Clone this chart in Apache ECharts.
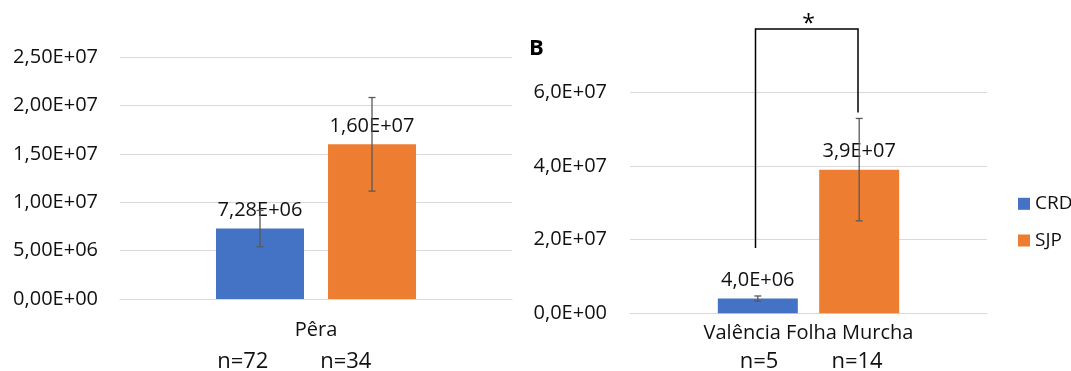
<!DOCTYPE html>
<html><head><meta charset="utf-8">
<script src="https://cdn.jsdelivr.net/npm/echarts@6/dist/echarts.min.js"></script>
<style>html,body{margin:0;padding:0;background:#fff}#c{width:1071px;height:371px}</style>
</head><body><div id="c"></div>
<script>
// ---------- data ----------
const seriesNames = ['CRD', 'SJP'];

const categoriesA = ['Pêra'];
const crdA = [7.28e6];
const sjpA = [1.60e7];
const crdErrA = [1.88e6];
const sjpErrA = [4.84e6];
const nLabelsA = ['n=72', 'n=34'];

const categoriesB = ['Valência Folha Murcha'];
const crdB = [4.0e6];
const sjpB = [3.9e7];
const crdErrB = [0.7e6];
const sjpErrB = [1.39e7];
const nLabelsB = ['n=5', 'n=14'];
const bracketB = [1.77e7, 7.72e7, 5.45e7]; // left foot, top, right foot
const sigMark = '*';
const panelLabel = 'B';

// ---------- helpers ----------
const FONT = 'Open Sans';
const BLUE = '#4472C4', ORANGE = '#ED7D31', GRID = '#D9D9D9', ERR = '#595959';
function sci(v, d) {
  const parts = v.toExponential(d).split('e');
  let m = parts[0].replace('.', ',');
  let e = parseInt(parts[1], 10);
  const sign = e < 0 ? '-' : '+';
  e = Math.abs(e);
  return m + 'E' + sign + (e < 10 ? '0' + e : '' + e);
}

const BW_A = 88, GAP_A = 24, BW_B = 80, GAP_B = 21.4;

function errSeries(name, gridIdx, vals, errs, offset) {
  return {
    type: 'custom', name: name, xAxisIndex: gridIdx, yAxisIndex: gridIdx, z: 6, clip: false,
    silent: true,
    data: vals.map((v, i) => [i, v, errs[i]]),
    renderItem: function (params, api) {
      const i = api.value(0), v = api.value(1), e = api.value(2);
      const hi = api.coord([i, v + e]);
      const lo = api.coord([i, v - e]);
      const x = hi[0] + offset;
      const cap = 3.5;
      const st = { stroke: ERR, lineWidth: 1.3 };
      return { type: 'group', children: [
        { type: 'line', shape: { x1: x, y1: hi[1], x2: x, y2: lo[1] }, style: st },
        { type: 'line', shape: { x1: x - cap, y1: hi[1], x2: x + cap, y2: hi[1] }, style: st },
        { type: 'line', shape: { x1: x - cap, y1: lo[1], x2: x + cap, y2: lo[1] }, style: st }
      ]};
    }
  };
}

function barSeries(name, gridIdx, vals, color, bw, gap, dec) {
  return {
    type: 'bar', name: name, xAxisIndex: gridIdx, yAxisIndex: gridIdx, z: 2,
    data: vals, barWidth: bw, barGap: (gap / bw * 100).toFixed(1) + '%',
    itemStyle: { color: color },
    label: { show: true, position: 'top', distance: 8, fontFamily: FONT, fontSize: 20, color: '#111',
      formatter: p => sci(p.value, dec) }
  };
}

const labelStyle = { fontFamily: FONT, fontSize: 20, color: '#111' };

const option = {
  animation: false,
  backgroundColor: '#fff',
  textStyle: { fontFamily: FONT },
  legend: {
    data: seriesNames, orient: 'vertical', left: 1013, top: 188.8,
    itemWidth: 12, itemHeight: 12, itemGap: 16.7, icon: 'rect',
    textStyle: { fontFamily: FONT, fontSize: 19, color: '#111', lineHeight: 20 }
  },
  grid: [
    { left: 120, width: 392, top: 57.3, height: 241.7, containLabel: false, outerBoundsMode: 'none' },
    { left: 630, width: 357, top: 92.3, height: 221, containLabel: false, outerBoundsMode: 'none' }
  ],
  xAxis: [
    { type: 'category', gridIndex: 0, data: categoriesA,
      axisLine: { lineStyle: { color: GRID, width: 1 } }, axisTick: { show: false },
      axisLabel: Object.assign({ margin: 21 }, labelStyle) },
    { type: 'category', gridIndex: 1, data: categoriesB,
      axisLine: { lineStyle: { color: GRID, width: 1 } }, axisTick: { show: false },
      axisLabel: Object.assign({ margin: 10 }, labelStyle) }
  ],
  yAxis: [
    { type: 'value', gridIndex: 0, min: 0, max: 2.5e7, interval: 5e6,
      axisLine: { show: false }, axisTick: { show: false },
      splitLine: { lineStyle: { color: GRID, width: 1 } },
      axisLabel: Object.assign({ margin: 22, formatter: v => sci(v, 2) }, labelStyle) },
    { type: 'value', gridIndex: 1, min: 0, max: 6e7, interval: 2e7,
      axisLine: { show: false }, axisTick: { show: false },
      splitLine: { lineStyle: { color: GRID, width: 1 } },
      axisLabel: Object.assign({ margin: 23, formatter: v => sci(v, 1) }, labelStyle) }
  ],
  series: [
    barSeries(seriesNames[0], 0, crdA, BLUE, BW_A, GAP_A, 2),
    barSeries(seriesNames[1], 0, sjpA, ORANGE, BW_A, GAP_A, 2),
    barSeries(seriesNames[0], 1, crdB, BLUE, BW_B, GAP_B, 1),
    barSeries(seriesNames[1], 1, sjpB, ORANGE, BW_B, GAP_B, 1),
    errSeries('errA0', 0, crdA, crdErrA, -(BW_A + GAP_A) / 2),
    errSeries('errA1', 0, sjpA, sjpErrA, (BW_A + GAP_A) / 2),
    errSeries('errB0', 1, crdB, crdErrB, -(BW_B + GAP_B) / 2),
    errSeries('errB1', 1, sjpB, sjpErrB, (BW_B + GAP_B) / 2),
    {
      type: 'custom', name: 'bracket', xAxisIndex: 1, yAxisIndex: 1, z: 7, clip: false, silent: true,
      data: [[0, bracketB[0], bracketB[1], bracketB[2]]],
      renderItem: function (params, api) {
        const i = api.value(0);
        const pL = api.coord([i, api.value(1)]);
        const pT = api.coord([i, api.value(2)]);
        const pR = api.coord([i, api.value(3)]);
        const cx = pT[0];
        const xL = cx - 53, xR = cx + 49.5;
        return { type: 'group', children: [
          { type: 'polyline', shape: { points: [[xL, pL[1]], [xL, pT[1]], [xR, pT[1]], [xR, pR[1]]] },
            style: { stroke: '#000', lineWidth: 1.5, fill: null } },
          { type: 'text', x: cx, y: pT[1] + 7,
            style: { text: sigMark, fontFamily: FONT, fontSize: 23, fill: '#000', align: 'center', verticalAlign: 'bottom' } }
        ]};
      }
    }
  ],
  graphic: [
    { type: 'text', left: 529, top: 38, style: { text: panelLabel, fontFamily: FONT, fontWeight: 'bold', fontSize: 22, fill: '#000' } },
    { type: 'text', x: 242.8, y: 361.5, style: { text: nLabelsA[0], fontFamily: FONT, fontSize: 22, fill: '#111', align: 'center', verticalAlign: 'middle' } },
    { type: 'text', x: 345.8, y: 361.5, style: { text: nLabelsA[1], fontFamily: FONT, fontSize: 22, fill: '#111', align: 'center', verticalAlign: 'middle' } },
    { type: 'text', x: 759, y: 361.5, style: { text: nLabelsB[0], fontFamily: FONT, fontSize: 22, fill: '#111', align: 'center', verticalAlign: 'middle' } },
    { type: 'text', x: 857, y: 361.5, style: { text: nLabelsB[1], fontFamily: FONT, fontSize: 22, fill: '#111', align: 'center', verticalAlign: 'middle' } }
  ]
};

const chart = echarts.init(document.getElementById('c'), null, { renderer: 'canvas' });
chart.setOption(option);
</script>
</body></html>
